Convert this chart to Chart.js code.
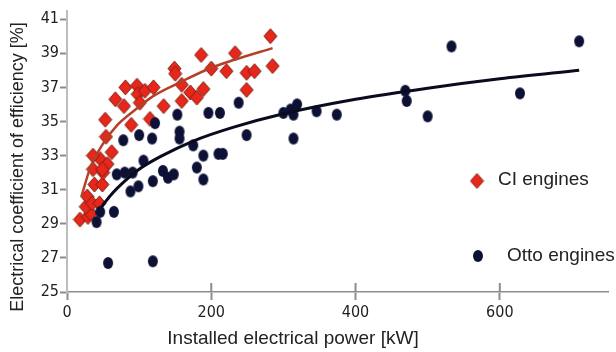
<!DOCTYPE html>
<html><head><meta charset="utf-8">
<script src="https://cdn.jsdelivr.net/npm/chart.js@4.4.1/dist/chart.umd.min.js"></script>
<style>html,body{margin:0;padding:0;background:#fff;}canvas{display:block;}</style>
</head><body>
<canvas id="c" width="616" height="352"></canvas>
<script>
// ---- data ----
const ciPower = [18,29,33,26,28,35,45,38,49,36,50,46,56,49,36,62,54,53,67,79,81,97,98,108,101,89,115,120,134,149,150,159,159,171,180,189,186,200,221,233,249,260,249,282,285];
const ciEff   = [29.25,29.4,29.6,30.0,30.6,30.2,30.2,31.3,31.3,32.2,32.0,32.8,32.5,32.2,33.0,33.2,34.1,35.1,36.3,35.9,37.0,37.1,36.6,36.8,36.1,34.8,35.15,37.0,35.9,38.1,37.8,37.15,36.2,36.7,36.4,36.9,38.9,38.1,37.95,39.0,37.85,37.95,36.85,40.0,38.25];
const ottoPower = [41,46,65,57,119,88,99,119,69,80,91,106,133,140,148,189,180,175,189,210,216,78,100,118,122,153,156,156,196,212,238,249,300,310,314,319,314,346,374,469,471,500,628,533,710];
const ottoEff   = [29.1,29.7,29.7,26.7,26.8,30.9,31.2,31.5,31.9,32.0,32.0,32.7,32.1,31.7,31.9,31.6,32.3,33.6,33.0,33.1,33.1,33.9,34.2,34.0,34.9,35.4,34.4,34.0,35.5,35.5,36.1,34.2,35.5,35.7,35.4,36.0,34.0,35.6,35.4,36.8,36.2,35.3,36.65,39.4,39.7];
const ciTrendPower = [20,32,50,70,92,120,157,200,231,285];
const ciTrendEff   = [30.6,32.25,33.7,34.8,35.6,36.5,37.3,38.15,38.6,39.3];
const ottoTrendPower = [48,60,80,100,130,175,230,300,400,500,600,710];
const ottoTrendEff   = [30.0,30.65,31.5,32.2,32.95,33.85,34.65,35.45,36.3,36.95,37.5,38.0];
const xTickValues = [0,200,400,600];
const yTickValues = [25,27,29,31,33,35,37,39,41];
const seriesNames = ['CI engines','Otto engines'];
const xTitle = 'Installed electrical power [kW]';
const yTitle = 'Electrical coefficient of efficiency [%]';

// ---- marker images ----
function makeDiamond(w,h,fill,stroke){
  const c=document.createElement('canvas'); c.width=w+2; c.height=h+2;
  const g=c.getContext('2d');
  g.beginPath(); g.moveTo(c.width/2,1); g.lineTo(c.width-1,c.height/2);
  g.lineTo(c.width/2,c.height-1); g.lineTo(1,c.height/2); g.closePath();
  g.fillStyle=fill; g.fill(); g.lineWidth=1; g.strokeStyle=stroke; g.stroke();
  return c;
}
function makeEllipse(w,h,fill){
  const c=document.createElement('canvas'); c.width=w+2; c.height=h+2;
  const g=c.getContext('2d');
  g.beginPath(); g.ellipse(c.width/2,c.height/2,w/2,h/2,0,0,Math.PI*2);
  g.fillStyle=fill; g.fill();
  return c;
}
const diamond = makeDiamond(13,15,'#e8261c','#7a2410');
const dot = makeEllipse(10,12,'#0e1136');

const pts = (xs,ys)=>xs.map((v,i)=>({x:v,y:ys[i]}));
const tickFont = {family:"'Liberation Sans Narrow','Arial Narrow','DejaVu Sans Condensed',sans-serif", size:16};
const fam = "'Liberation Sans', Arial, sans-serif";

const decor = {
  id:'decor',
  afterDraw(chart){
    const {ctx, chartArea:a, scales:{x}} = chart;
    ctx.save();
    ctx.strokeStyle='#8c8c8c'; ctx.lineWidth=2;
    xTickValues.forEach(v=>{ if(v===0) return; const px=x.getPixelForValue(v);
      ctx.beginPath(); ctx.moveTo(px,a.bottom-9); ctx.lineTo(px,a.bottom); ctx.stroke(); });
    ctx.fillStyle='#222'; ctx.textBaseline='middle';
    ctx.textAlign='center';
    ctx.font='19px '+fam;
    ctx.fillText(xTitle, 293, 339);
    ctx.font='18px '+fam;
    ctx.save(); ctx.translate(18,167); ctx.rotate(-Math.PI/2); ctx.fillText(yTitle,0,0); ctx.restore();
    // legend
    ctx.font='19px '+fam;
    ctx.textAlign='left';
    ctx.drawImage(diamond, 477-diamond.width/2, 181-diamond.height/2);
    ctx.fillText(seriesNames[0], 498, 180);
    ctx.drawImage(dot, 478-dot.width/2, 256-dot.height/2);
    ctx.fillText(seriesNames[1], 507, 256);
    ctx.restore();
  }
};

new Chart(document.getElementById('c'), {
  type:'scatter',
  data:{ datasets:[
    {label:seriesNames[0], data:pts(ciPower,ciEff), pointStyle:diamond, order:4},
    {label:seriesNames[1], data:pts(ottoPower,ottoEff), pointStyle:dot, order:3},
    {label:'CI trend', data:pts(ciTrendPower,ciTrendEff), showLine:true, pointRadius:0,
     borderColor:'#b5402a', borderWidth:2.5, cubicInterpolationMode:'monotone', order:2},
    {label:'Otto trend', data:pts(ottoTrendPower,ottoTrendEff), showLine:true, pointRadius:0,
     borderColor:'#0b0b20', borderWidth:3, cubicInterpolationMode:'monotone', order:1}
  ]},
  options:{
    responsive:false, animation:false, devicePixelRatio:1,
    layout:{padding:{left:0,right:8,top:7,bottom:0}},
    plugins:{legend:{display:false}, tooltip:{enabled:false}},
    scales:{
      x:{ type:'linear', min:0, max:750,
        afterBuildTicks:s=>{ s.ticks = xTickValues.map(v=>({value:v})); },
        afterFit:s=>{ s.height = 60; },
        ticks:{font:tickFont, color:'#1e1e1e', padding:3, maxRotation:0},
        grid:{drawOnChartArea:false, drawTicks:true, tickLength:8, tickColor:'#8c8c8c', tickWidth:2},
        border:{color:'#8c8c8c', width:1.5}
      },
      y:{ type:'linear', min:25, max:41.5,
        afterBuildTicks:s=>{ s.ticks = yTickValues.map(v=>({value:v})); },
        afterFit:s=>{ s.width = 67; },
        ticks:{font:tickFont, color:'#1e1e1e', padding:1},
        grid:{drawOnChartArea:false, drawTicks:true, tickLength:7, tickColor:'#8c8c8c', tickWidth:2},
        border:{color:'#bdbdbd', width:2}
      }
    }
  },
  plugins:[decor]
});
</script>
</body></html>
